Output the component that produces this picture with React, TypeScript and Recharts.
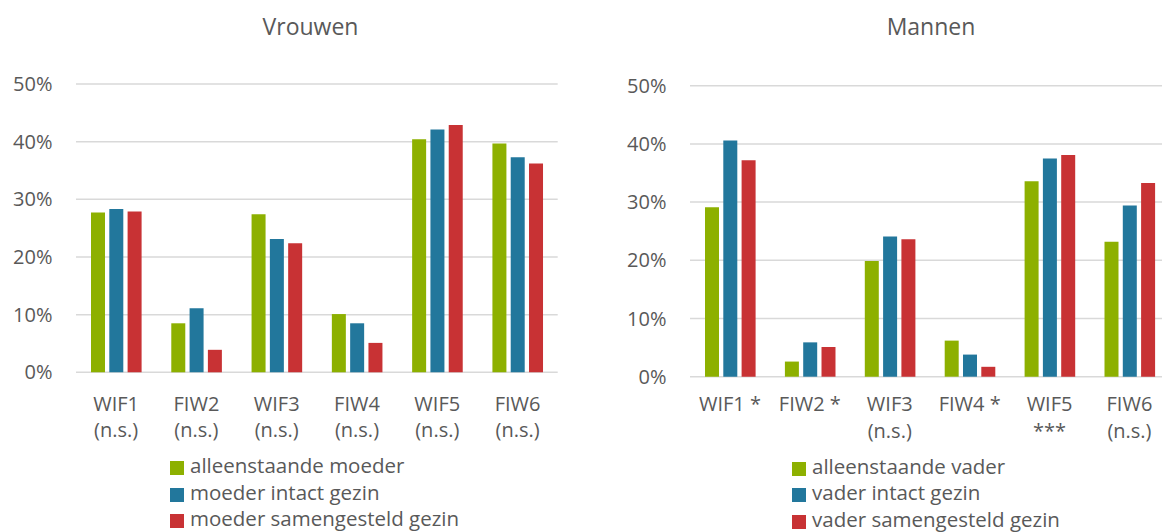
import { BarChart, Bar, XAxis, YAxis, CartesianGrid, Legend } from 'recharts';

const categories = ['WIF1', 'FIW2', 'WIF3', 'FIW4', 'WIF5', 'FIW6'];

// tick labels (second line = significance)
const vrouwenLabels = [
  ['WIF1', '(n.s.)'],
  ['FIW2', '(n.s.)'],
  ['WIF3', '(n.s.)'],
  ['FIW4', '(n.s.)'],
  ['WIF5', '(n.s.)'],
  ['FIW6', '(n.s.)']
];
const mannenLabels = [
  ['WIF1 *'],
  ['FIW2 *'],
  ['WIF3', '(n.s.)'],
  ['FIW4 *'],
  ['WIF5', '***'],
  ['FIW6', '(n.s.)']
];

const vrouwenSeries = ['alleenstaande moeder', 'moeder intact gezin', 'moeder samengesteld gezin'];
const mannenSeries = ['alleenstaande vader', 'vader intact gezin', 'vader samengesteld gezin'];

// percentages
const vrouwenAlleen = [27.7, 8.5, 27.4, 10.1, 40.4, 39.7];
const vrouwenIntact = [28.3, 11.1, 23.1, 8.5, 42.1, 37.3];
const vrouwenSamen = [27.9, 3.9, 22.4, 5.1, 42.9, 36.2];

const mannenAlleen = [29.1, 2.6, 19.9, 6.2, 33.6, 23.2];
const mannenIntact = [40.6, 5.9, 24.1, 3.8, 37.5, 29.4];
const mannenSamen = [37.2, 5.1, 23.6, 1.7, 38.1, 33.3];

const yTicks = [0, 10, 20, 30, 40, 50];

const colors = ['#8db000', '#22779c', '#c83234'];
const font = '"Open Sans", sans-serif';
const textColor = '#595959';

function buildRows(a: number[], b: number[], c: number[]) {
  return categories.map((cat, i) => ({ cat, a: a[i], b: b[i], c: c[i] }));
}

function CategoryTick(props: any) {
  const { x, y, index, labels, first } = props;
  const lines: string[] = labels[index] || [];
  return (
    <text x={x} y={y} textAnchor="middle" fill={textColor} fontSize={20} fontFamily={font}>
      {lines.map((l, i) => (
        <tspan key={i} x={x} y={y + first + i * 26.5}>{l}</tspan>
      ))}
    </text>
  );
}

function LegendBox({ names }: { names: string[] }) {
  return (
    <div style={{ fontFamily: font, fontSize: 20.5, color: textColor, height: 79.5 }}>
      {names.map((n, i) => (
        <div key={n} style={{ height: 26.5, lineHeight: '26.5px', whiteSpace: 'nowrap' }}>
          <span style={{ display: 'inline-block', width: 14, height: 14, background: colors[i], marginRight: 6, verticalAlign: '-2px' }} />
          {n}
        </div>
      ))}
    </div>
  );
}

type PanelProps = {
  rows: any[];
  names: string[];
  labels: string[][];
  width: number;
  margin: { top: number; right: number; bottom: number; left: number };
  xHeight: number;
  firstLine: number;
  legendPos: { left: number; top: number };
};

function Panel({ rows, names, labels, width, margin, xHeight, firstLine, legendPos }: PanelProps) {
  return (
    <BarChart width={width} height={532} data={rows} margin={margin} barSize={14} barGap={4.3}>
      <CartesianGrid vertical={false} stroke="#d9d9d9" strokeWidth={1.5} />
      <XAxis
        dataKey="cat"
        axisLine={false}
        tickLine={false}
        tickSize={0}
        tickMargin={0}
        interval={0}
        height={xHeight}
        tick={(p: any) => <CategoryTick {...p} labels={labels} first={firstLine} />}
      />
      <YAxis
        domain={[0, 50]}
        ticks={yTicks}
        width={60}
        axisLine={false}
        tickLine={false}
        tickSize={0}
        tickMargin={23.5}
        tickFormatter={(v: number) => `${v}%`}
        tick={{ fill: textColor, fontSize: 20, fontFamily: font }}
      />
      <Legend
        verticalAlign="bottom"
        wrapperStyle={{ left: legendPos.left, top: legendPos.top, width: 'auto' }}
        content={() => <LegendBox names={names} />}
      />
      <Bar dataKey="a" name={names[0]} fill={colors[0]} isAnimationActive={false} />
      <Bar dataKey="b" name={names[1]} fill={colors[1]} isAnimationActive={false} />
      <Bar dataKey="c" name={names[2]} fill={colors[2]} isAnimationActive={false} />
    </BarChart>
  );
}

const titleStyle = {
  position: 'absolute' as const,
  top: 15,
  width: 300,
  textAlign: 'center' as const,
  fontFamily: font,
  fontSize: 23,
  lineHeight: '23px',
  color: textColor
};

export default function App() {
  return (
    <div style={{ position: 'absolute', left: 0, top: 0, width: 1162, height: 532, overflow: 'hidden', background: '#fff' }}>
      <div style={{ ...titleStyle, left: 160.5 }}>Vrouwen</div>
      <div style={{ ...titleStyle, left: 781 }}>Mannen</div>
      <div style={{ position: 'absolute', left: 0, top: 0 }}>
        <Panel
          rows={buildRows(vrouwenAlleen, vrouwenIntact, vrouwenSamen)}
          names={vrouwenSeries}
          labels={vrouwenLabels}
          width={580}
          margin={{ top: 84, right: 22.3, bottom: 0, left: 16 }}
          xHeight={80.2}
          firstLine={38.5}
          legendPos={{ left: 170, top: 452 }}
        />
      </div>
      <div style={{ position: 'absolute', left: 580, top: 0 }}>
        <Panel
          rows={buildRows(mannenAlleen, mannenIntact, mannenSamen)}
          names={mannenSeries}
          labels={mannenLabels}
          width={600}
          margin={{ top: 85.7, right: 10.6, bottom: 0, left: 50 }}
          xHeight={75.8}
          firstLine={34.5}
          legendPos={{ left: 212, top: 452.5 }}
        />
      </div>
    </div>
  );
}
